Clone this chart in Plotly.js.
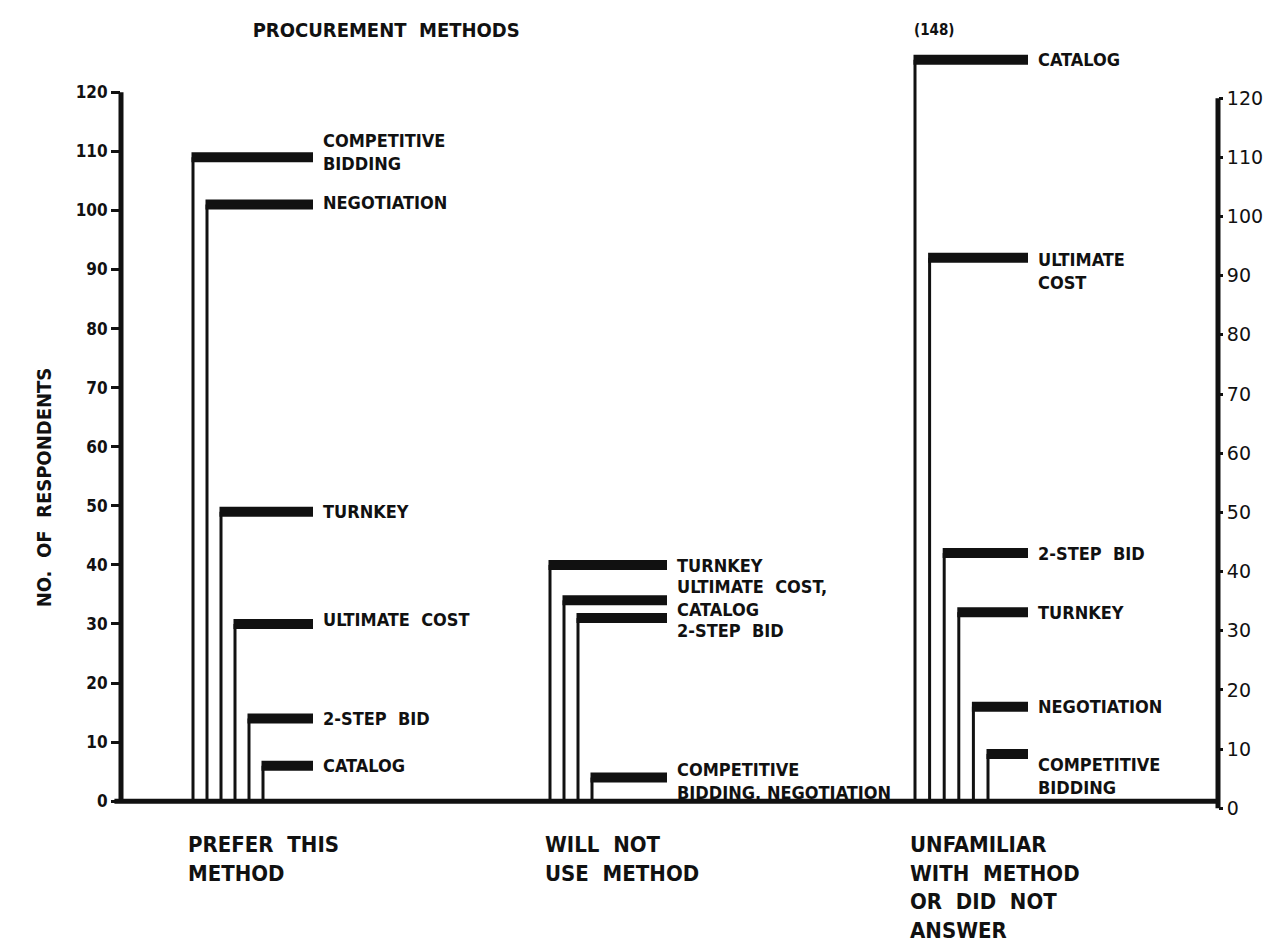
<!DOCTYPE html>
<html>
<head>
<meta charset="utf-8">
<script src="https://cdn.plot.ly/plotly-3.0.1.min.js"></script>
<style>
  body { margin: 0; background: #fff; }
  #plot { width: 1285px; height: 946px; }
</style>
</head>
<body>
<div id="plot"></div>
<script>
// answer groups along the bottom
var groupNames = [
    "PREFER\u00a0 THIS<br>METHOD",
    "WILL\u00a0 NOT<br>USE\u00a0 METHOD",
    "UNFAMILIAR<br>WITH\u00a0 METHOD<br>OR\u00a0 DID\u00a0 NOT<br>ANSWER"
];

// prefer this method
var preferMethods = ["COMPETITIVE<br>BIDDING", "NEGOTIATION", "TURNKEY", "ULTIMATE\u00a0 COST", "2-STEP\u00a0 BID", "CATALOG"];
var preferCounts = [109, 101, 49, 30, 14, 6];

// will not use method
var refuseMethods = ["TURNKEY", "ULTIMATE\u00a0 COST,<br>CATALOG", "2-STEP\u00a0 BID", "COMPETITIVE<br>BIDDING, NEGOTIATION"];
var refuseCounts = [40, 34, 31, 4];

// unfamiliar with method or did not answer
var unfamiliarMethods = ["CATALOG", "ULTIMATE<br>COST", "2-STEP\u00a0 BID", "TURNKEY", "NEGOTIATION", "COMPETITIVE<br>BIDDING"];
var unfamiliarCounts = [148, 92, 42, 32, 16, 8];

var yTicks = [0, 10, 20, 30, 40, 50, 60, 70, 80, 90, 100, 110, 120];

// layout of the drawing (x axis runs in pixels from the left axis)
var axisBreak = 125.5;              // taller values are cut off here
var groupStart = [72, 429, 794];
var groupStep = [14, 14, 14.6];
var barEnd = [192, 546, 907];
var labelShift = [
    [5, 2, 0, 4, 0, 0],
    [-1, 2, -12, -3],
    [0, -13, 0, 0, 0, -22]
];

var groups = [
    {methods: preferMethods, counts: preferCounts},
    {methods: refuseMethods, counts: refuseCounts},
    {methods: unfamiliarMethods, counts: unfamiliarCounts}
];

var font = "DejaVu Sans Condensed, DejaVu Sans, sans-serif";
var ink = "#111";

var stemX = [], stemY = [], barX = [], barY = [];
var annotations = [];

groups.forEach(function(g, gi) {
    g.counts.forEach(function(v, i) {
        var x = groupStart[gi] + i * groupStep[gi];
        var h = Math.min(v, axisBreak);
        stemX.push(x, x, null);
        stemY.push(0, h, null);
        barX.push(x - 1.5, barEnd[gi], null);
        barY.push(h, h, null);
        annotations.push({
            x: barEnd[gi] + 8, y: h, xref: "x", yref: "y",
            text: g.methods[i], showarrow: false,
            xanchor: "left", yanchor: "middle", align: "left",
            yshift: labelShift[gi][i],
            font: {family: font, size: 18, weight: 700, color: ink}
        });
        if (v > axisBreak) {
            annotations.push({
                x: x - 3, y: h, xref: "x", yref: "y",
                text: "(" + v + ")", showarrow: false,
                xanchor: "left", yanchor: "middle", yshift: 30,
                font: {family: font, size: 15, weight: 700, color: ink}
            });
        }
    });
    annotations.push({
        x: groupStart[gi] - 7, y: -0.022, xref: "x", yref: "paper",
        text: groupNames[gi], showarrow: false,
        xanchor: "left", yanchor: "top", align: "left",
        font: {family: font, size: 22, weight: 700, color: ink}
    });
});

annotations.push({
    x: -0.083, y: 0.424, xref: "paper", yref: "paper",
    text: "NO.\u00a0 OF\u00a0 RESPONDENTS", textangle: -90, showarrow: false,
    font: {family: font, size: 20, weight: 700, color: ink}
});

var stems = {
    x: stemX, y: stemY, mode: "lines", hoverinfo: "skip",
    line: {color: ink, width: 3}
};
var bars = {
    x: barX, y: barY, mode: "lines", hoverinfo: "skip",
    line: {color: ink, width: 10}
};

var layout = {
    width: 1285, height: 946,
    margin: {l: 121, r: 67, t: 45, b: 133},
    paper_bgcolor: "#fff", plot_bgcolor: "#fff",
    showlegend: false,
    title: {
        text: "PROCUREMENT\u00a0 METHODS",
        x: 0.12, xanchor: "left", xref: "paper",
        y: 0.968, yanchor: "middle",
        font: {family: font, size: 20, weight: 700, color: ink}
    },
    xaxis: {
        range: [0, 1097], showgrid: false, zeroline: false,
        showline: false, showticklabels: false, ticks: "", fixedrange: true
    },
    yaxis: {
        range: [-2, 128], showgrid: false, zeroline: false, showline: false,
        tickvals: yTicks, ticks: "outside", ticklen: 9, tickwidth: 3, tickcolor: ink,
        tickfont: {family: font, size: 17, weight: 700, color: ink}
    },
    yaxis2: {
        range: [-0.81, 128.98], overlaying: "y", side: "right",
        showgrid: false, zeroline: false, showline: false,
        tickvals: yTicks, ticks: "outside", ticklen: 4, tickwidth: 3, tickcolor: ink,
        tickfont: {family: "DejaVu Sans, sans-serif", size: 19, color: ink}
    },
    shapes: [
        // left axis
        {type: "line", xref: "paper", yref: "y", x0: 0, x1: 0, y0: 0, y1: 120,
         line: {color: ink, width: 5}},
        // right axis
        {type: "line", xref: "paper", yref: "y2", x0: 1, x1: 1, y0: 0, y1: 120,
         line: {color: ink, width: 5}},
        // baseline
        {type: "line", xref: "paper", yref: "y", x0: -0.006, x1: 1, y0: 0, y1: 0,
         line: {color: ink, width: 5}}
    ],
    annotations: annotations
};

Plotly.newPlot("plot", [stems, bars], layout, {staticPlot: true});
</script>
</body>
</html>
